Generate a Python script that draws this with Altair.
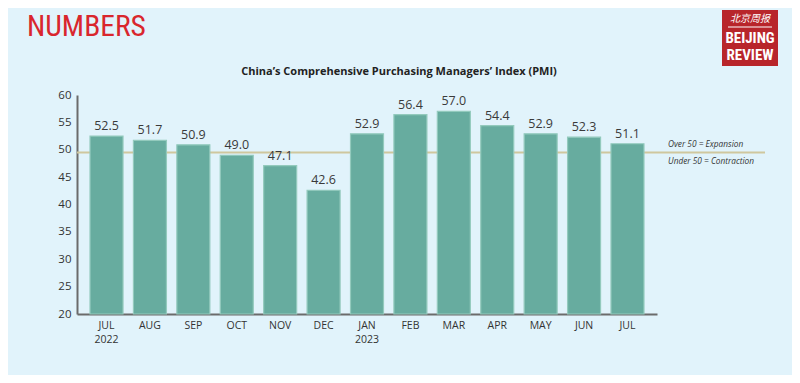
import altair as alt
import pandas as pd

months = ["JUL", "AUG", "SEP", "OCT", "NOV", "DEC", "JAN", "FEB", "MAR", "APR", "MAY", "JUN", "JUL "]
years = ["2022", "", "", "", "", "", "2023", "", "", "", "", "", ""]
pmi = [52.5, 51.7, 50.9, 49.0, 47.1, 42.6, 52.9, 56.4, 57.0, 54.4, 52.9, 52.3, 51.1]
y_ticks = [20, 25, 30, 35, 40, 45, 50, 55, 60]
threshold = [49.5]

df = pd.DataFrame({"month": months, "year": years, "pmi": pmi,
                   "label": [f"{v:.1f}" for v in pmi]})

BG = "#e1f3fb"
FONT = "Open Sans"
NARROW = "Roboto Condensed, DejaVu Sans Condensed, sans-serif"

x = alt.X("month:N", sort=months,
          scale=alt.Scale(paddingInner=0.24, paddingOuter=0.3),
          axis=alt.Axis(title=None, labelAngle=0, ticks=False, domainColor="#6b6b6b",
                        domainWidth=2, labelFont=FONT, labelFontSize=10.5,
                        labelColor="#333333", labelPadding=6,
                        labelExpr="datum.value == 'JUL ' ? 'JUL' : datum.value"))
y_axis = alt.Axis(title=None, values=y_ticks, ticks=False, grid=False,
                  labelOverlap=False, labelFlush=False,
                  domainColor="#6b6b6b", domainWidth=2, labelFont=FONT,
                  labelFontSize=11.5, labelColor="#333333", labelPadding=6)
y_scale = alt.Scale(domain=[20, 60], nice=False, zero=False)

base = alt.Chart(df)

rule = alt.Chart(pd.DataFrame({"t": threshold})).mark_rule(
    color="#cfc79e", strokeWidth=2).encode(
    y=alt.Y("t:Q", scale=y_scale, axis=y_axis),
    x=alt.value(0), x2=alt.value(688))

bars = base.mark_bar(color="#67ac9f", stroke="#93cabd", strokeWidth=1.2).encode(
    x=x, y=alt.Y("pmi:Q", scale=y_scale, axis=y_axis), y2=alt.datum(20))

labels = base.mark_text(dy=-10, font=FONT, fontSize=12.5, color="#3a3a3a").encode(
    x=x, y=alt.Y("pmi:Q", scale=y_scale, axis=y_axis), text="label:N")

year_labels = base.mark_text(font=FONT, fontSize=10.5, color="#333333").encode(
    x=x, y=alt.value(245), text="year:N")

exp_text = alt.Chart(pd.DataFrame({"t": ["Over 50 = Expansion"]})).mark_text(
    align="left", font=FONT, fontSize=8.3, fontStyle="italic", color="#333333").encode(
    x=alt.value(591), y=alt.value(50), text="t:N")
con_text = alt.Chart(pd.DataFrame({"t": ["Under 50 = Contraction"]})).mark_text(
    align="left", font=FONT, fontSize=8.3, fontStyle="italic", color="#333333").encode(
    x=alt.value(591), y=alt.value(67), text="t:N")

title = alt.Chart(pd.DataFrame({"t": ["China\u2019s Comprehensive Purchasing Managers\u2019 Index (PMI)"]})).mark_text(
    font=FONT, fontSize=11, fontWeight="bold", color="#222222").encode(
    x=alt.value(322), y=alt.value(-23), text="t:N")

numbers = alt.Chart(pd.DataFrame({"t": ["NUMBERS"]})).mark_text(
    align="left", font=NARROW, fontSize=29.5, color="#d9262d", baseline="alphabetic").encode(
    x=alt.value(-50), y=alt.value(-59), text="t:N")

logo_box = alt.Chart(pd.DataFrame({"a": [1]})).mark_rect(color="#b8252a").encode(
    x=alt.value(645), x2=alt.value(701), y=alt.value(-85), y2=alt.value(-29))
logo_rule = alt.Chart(pd.DataFrame({"a": [1]})).mark_rule(color="#ffffff", strokeWidth=1).encode(
    x=alt.value(651), x2=alt.value(695), y=alt.value(-68))
logo_cn = alt.Chart(pd.DataFrame({"t": ["北京周报"]})).mark_text(
    font="Noto Sans CJK SC", fontSize=10, color="#ffffff", fontStyle="italic").encode(
    x=alt.value(673), y=alt.value(-76), text="t:N")
logo_l1 = alt.Chart(pd.DataFrame({"t": ["BEIJING"]})).mark_text(
    font=NARROW, fontSize=15, fontWeight="bold",
    color="#ffffff").encode(x=alt.value(673), y=alt.value(-57), text="t:N")
logo_l2 = alt.Chart(pd.DataFrame({"t": ["REVIEW"]})).mark_text(
    font=NARROW, fontSize=15, fontWeight="bold",
    color="#ffffff").encode(x=alt.value(673), y=alt.value(-40), text="t:N")

chart = alt.layer(rule, bars, labels, year_labels, exp_text, con_text, title,
                  numbers, logo_box, logo_rule, logo_cn, logo_l1, logo_l2).properties(
    width=580, height=219,
    autosize=alt.AutoSizeParams(type="none"),
    padding={"left": 69, "top": 87, "right": 135, "bottom": 61},
    background=BG,
).configure_view(stroke=None)

chart.save("out.html", embed_options={"renderer": "svg", "actions": False})
